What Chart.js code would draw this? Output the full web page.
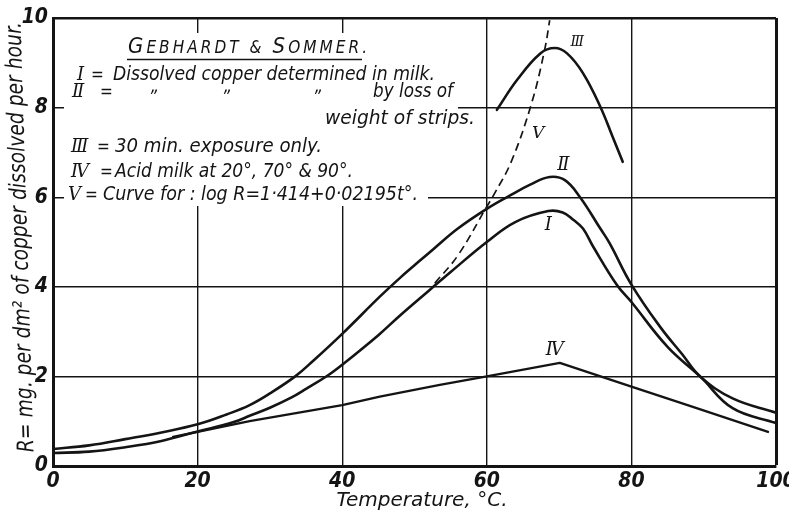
<!DOCTYPE html>
<html>
<head>
<meta charset="utf-8">
<script src="https://cdn.jsdelivr.net/npm/chart.js@4.4.1/dist/chart.umd.min.js"></script>
<style>
  html, body { margin: 0; padding: 0; background: #fff; }
  #wrap { width: 789px; height: 512px; }
</style>
</head>
<body>
<div id="wrap"><canvas id="c" width="789" height="512"></canvas></div>
<script>
// Temperature (°C) against R, mg of copper dissolved per dm² per hour.
// I  : dissolved copper determined in milk
const tempI = [0, 5, 10, 15, 20, 25, 27.2, 30, 33, 35, 38, 40, 45, 48, 52.1, 55, 60, 64, 68.5, 70.5, 72, 73.3, 74.7, 78, 80, 85, 89.5, 94, 100];
const rateI = [0.29, 0.32, 0.42, 0.56, 0.77, 0.98, 1.12, 1.30, 1.53, 1.72, 2.02, 2.26, 2.92, 3.36, 3.93, 4.33, 5.00, 5.45, 5.69, 5.66, 5.49, 5.30, 4.90, 4.04, 3.66, 2.66, 2.00, 1.29, 0.96];
// II : by loss of weight of strips
const tempII = [0, 5, 10, 15, 20, 24, 27.2, 30, 33.5, 36, 40, 45.2, 48, 50, 52.6, 56, 60, 63, 66, 68.7, 70.8, 72.9, 75.7, 77, 80, 84, 87, 89.5, 94, 100];
const rateII = [0.38, 0.46, 0.60, 0.75, 0.93, 1.15, 1.36, 1.62, 2.00, 2.35, 2.95, 3.78, 4.20, 4.48, 4.84, 5.30, 5.74, 6.02, 6.28, 6.45, 6.38, 6.00, 5.30, 4.97, 4.05, 3.10, 2.50, 2.00, 1.51, 1.19];
// III: 30 min. exposure only
const tempIII = [61.4, 64.2, 67.4, 69.4, 71.1, 73.3, 75.7, 77.4, 78.8];
const rateIII = [7.95, 8.62, 9.21, 9.33, 9.21, 8.77, 8.02, 7.35, 6.79];
// IV : acid milk at 20°, 70° and 90°
const tempIV = [16.6, 20, 27.2, 40, 45.2, 53.5, 60, 70.1, 80, 88.5, 98.9];
const rateIV = [0.65, 0.76, 1.00, 1.36, 1.55, 1.81, 2.00, 2.30, 1.77, 1.32, 0.76];
// V  : curve for log R = 1.414 + 0.02195 t
const tempV = [52.8, 56, 60, 61.1, 63.4, 66.2, 68, 68.7];
const rateV = [4.08, 4.70, 5.79, 6.09, 6.80, 8.10, 9.29, 9.95];
// axis ticks
const tempTicks = [0, 20, 40, 60, 80, 100];
const rateTicks = [0, 2, 4, 6, 8, 10];

const INK = '#141414';
const SANS = '"DejaVu Sans Condensed", "DejaVu Sans", sans-serif';
const SERIF = '"DejaVu Serif", "Liberation Serif", serif';

const zip = (xs, ys) => xs.map((x, i) => ({ x, y: ys[i] }));

function curve(xs, ys, width, extra) {
  return Object.assign({
    data: zip(xs, ys),
    showLine: true,
    borderColor: INK,
    borderWidth: width,
    pointRadius: 0,
    fill: false,
    tension: 0.4,
    borderCapStyle: 'round',
    borderJoinStyle: 'round'
  }, extra || {});
}

// draw text squeezed/stretched to a given width
function fitText(ctx, text, x, y, width, align) {
  const natural = ctx.measureText(text).width;
  ctx.save();
  ctx.translate(x, y);
  ctx.scale(width / natural, 1);
  ctx.textAlign = align || 'left';
  ctx.fillText(text, 0, 0);
  ctx.restore();
}

// small capitals spread evenly between x0 and x1
function spacedCaps(ctx, parts, x0, x1, y) {
  const glyphs = [];
  parts.forEach(([t, size]) => {
    ctx.font = `italic ${size}px ${SANS}`;
    for (const ch of t) glyphs.push({ ch, size, w: ctx.measureText(ch).width });
  });
  const total = glyphs.reduce((s, g) => s + g.w, 0);
  const gap = (x1 - x0 - total) / (glyphs.length - 1);
  let x = x0;
  glyphs.forEach(g => {
    ctx.font = `italic ${g.size}px ${SANS}`;
    ctx.fillText(g.ch, x, y);
    x += g.w + gap;
  });
}

const annotate = {
  id: 'annotate',
  beforeDatasetsDraw(chart) {
    const ctx = chart.ctx;
    ctx.save();
    // blank panel behind the key
    ctx.fillStyle = '#fff';
    ctx.fillRect(64, 33, 394, 152);
    ctx.fillRect(64, 185, 364, 21);

    ctx.fillStyle = INK;
    ctx.strokeStyle = INK;
    ctx.textBaseline = 'alphabetic';

    spacedCaps(ctx, [['G', 22], ['EBHARDT', 17], [' & ', 17], ['S', 22], ['OMMER.', 17]], 128, 367, 53);
    ctx.lineWidth = 1.5;
    ctx.beginPath();
    ctx.moveTo(127, 59.5);
    ctx.lineTo(362, 59.5);
    ctx.stroke();

    const numeral = (t, x, y) => {
      ctx.font = `italic 18px ${SERIF}`;
      ctx.textAlign = 'left';
      ctx.fillText(t, x, y);
      ctx.font = `italic 17px ${SANS}`;
    };
    const body = `italic 19px ${SANS}`;

    numeral('Ⅰ', 77, 80);
    ctx.fillText('=', 91, 80);
    ctx.font = body;
    fitText(ctx, 'Dissolved copper determined in milk.', 113, 80, 322);

    numeral('Ⅱ', 72, 97);
    ctx.fillText('=', 100, 97);
    ctx.font = `italic 18px ${SANS}`;
    ctx.textAlign = 'center';
    [155, 228, 319].forEach(x => ctx.fillText('„', x, 92));
    ctx.font = body;
    fitText(ctx, 'by loss of', 373, 97, 80);
    fitText(ctx, 'weight of strips.', 325, 124, 150);

    numeral('Ⅲ', 71, 152);
    ctx.fillText('=', 97, 152);
    ctx.font = body;
    fitText(ctx, '30 min. exposure only.', 115, 152, 207);

    numeral('Ⅳ', 71, 177);
    ctx.fillText('=', 100, 177);
    ctx.font = body;
    fitText(ctx, 'Acid milk at 20°, 70° & 90°.', 115, 177, 238);

    numeral('Ⅴ', 68, 200);
    ctx.fillText('=', 85, 200);
    ctx.font = body;
    fitText(ctx, 'Curve for : log R=1·414+0·02195t°.', 103, 200, 315);
    ctx.restore();
  },
  afterDatasetsDraw(chart) {
    const ctx = chart.ctx;
    const xs = chart.scales.x, ys = chart.scales.y;
    const marks = [
      ['Ⅲ', 72.5, 9.46, 14],
      ['Ⅴ', 67.1, 7.43, 17],
      ['Ⅱ', 70.6, 6.72, 18],
      ['Ⅰ', 68.5, 5.38, 18],
      ['Ⅳ', 69.4, 2.59, 18]
    ];
    ctx.save();
    ctx.fillStyle = INK;
    ctx.textAlign = 'center';
    ctx.textBaseline = 'middle';
    marks.forEach(([t, x, y, size]) => {
      ctx.font = `italic ${size}px ${SERIF}`;
      ctx.fillText(t, xs.getPixelForValue(x), ys.getPixelForValue(y));
    });
    ctx.restore();
  },
  afterDraw(chart) {
    const ctx = chart.ctx;
    ctx.save();
    ctx.fillStyle = INK;
    ctx.textBaseline = 'alphabetic';
    ctx.font = `italic 20px ${SANS}`;
    fitText(ctx, 'Temperature, °C.', 422, 506, 171, 'center');
    // the hand-lettered axis title leans slightly off the vertical
    ctx.translate(27, 237);
    ctx.rotate(-Math.PI / 2 - 0.03);
    ctx.font = `italic 23px ${SANS}`;
    fitText(ctx, 'R= mg. per dm² of copper dissolved per hour.', 0, 0, 430, 'center');
    ctx.restore();
  }
};

const tickFont = { family: SANS, size: 21, style: 'italic', weight: 'bold' };

new Chart(document.getElementById('c'), {
  type: 'scatter',
  data: {
    datasets: [
      curve(tempI, rateI, 2.6),
      curve(tempII, rateII, 2.6),
      curve(tempIII, rateIII, 2.6),
      curve(tempIV, rateIV, 2.3, { tension: 0 }),
      curve(tempV, rateV, 1.7, { borderDash: [8, 5], borderCapStyle: 'butt' })
    ]
  },
  options: {
    responsive: false,
    animation: false,
    layout: { padding: { top: 18, right: 13, left: 0, bottom: 0 } },
    plugins: { legend: { display: false }, tooltip: { enabled: false } },
    scales: {
      x: {
        type: 'linear', min: 0, max: 100,
        afterBuildTicks: s => { s.ticks = tempTicks.map(value => ({ value })); },
        ticks: { font: tickFont, color: INK, padding: 3, maxRotation: 0, autoSkip: false },
        grid: {
          color: INK, drawTicks: false,
          lineWidth: c => (c.tick && c.tick.value === 100 ? 3 : 1.4)
        },
        border: { color: INK, width: 3 },
        afterFit: s => { s.height = 46; s.paddingLeft = 0; s.paddingRight = 0; }
      },
      y: {
        type: 'linear', min: 0, max: 10,
        afterBuildTicks: s => { s.ticks = rateTicks.map(value => ({ value })); },
        ticks: { font: tickFont, color: INK, padding: 5, autoSkip: false },
        grid: {
          color: INK, drawTicks: false,
          lineWidth: c => (c.tick && c.tick.value === 10 ? 2.5 : 1.4)
        },
        border: { color: INK, width: 3 },
        afterFit: s => { s.width = 53; s.paddingTop = 0; s.paddingBottom = 0; }
      }
    }
  },
  plugins: [annotate]
});
</script>
</body>
</html>
